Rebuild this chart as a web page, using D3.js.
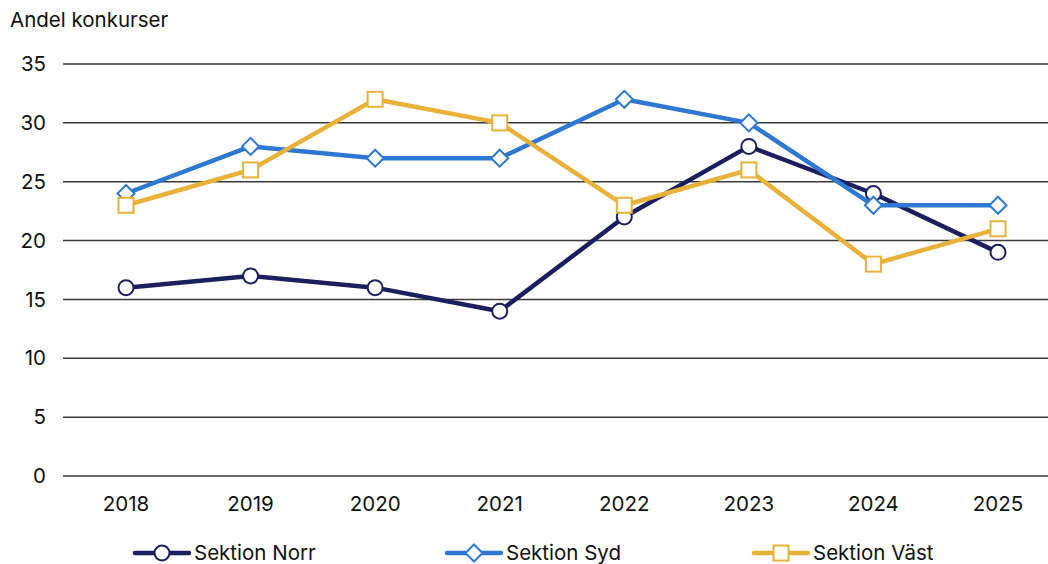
<!DOCTYPE html>
<html><head><meta charset="utf-8">
<script src="https://cdn.jsdelivr.net/npm/d3@7"></script>
<style>body{margin:0;background:#fff}svg{display:block;font-family:Inter,"Noto Sans",sans-serif}</style>
</head><body><svg id="c" width="1048" height="564"></svg>
<script>
const years = ["2018","2019","2020","2021","2022","2023","2024","2025"];
const norr = [16,17,16,14,22,28,24,19];
const syd  = [24,28,27,27,32,30,23,23];
const vast = [23,26,32,30,23,26,18,21];
const yTicks = [0,5,10,15,20,25,30,35];
const seriesNames = ["Sektion Norr","Sektion Syd","Sektion Väst"];
const colors = ["#1c1f5e","#2e78d2","#e8b23a"];
const shapes = ["circle","diamond","square"];
const FS = 20.5;

const svg = d3.select("#c");
const x = d3.scalePoint().domain(years).range([126,998]);
const y = d3.scaleLinear().domain([0,35]).range([476,64]);

// gridlines
svg.append("g").selectAll("line").data(yTicks).join("line")
  .attr("x1",63).attr("x2",1048).attr("y1",d=>y(d)).attr("y2",d=>y(d))
  .attr("stroke","#3a3a3a").attr("stroke-width",1.5);

// y labels
svg.append("g").selectAll("text").data(yTicks).join("text")
  .attr("x",46).attr("y",d=>y(d)).attr("dy","0.35em").attr("text-anchor","end")
  .attr("font-size",FS).attr("fill","#111").text(d=>d);

// x labels
svg.append("g").selectAll("text").data(years).join("text")
  .attr("x",d=>x(d)).attr("y",511).attr("text-anchor","middle")
  .attr("font-size",FS).attr("fill","#111").text(d=>d);

// title
svg.append("text").attr("x",10).attr("y",27).attr("font-size",FS).attr("fill","#111").text("Andel konkurser");

function marker(g, shape, cx, cy, color){
  if(shape==="circle"){
    g.append("circle").attr("cx",cx).attr("cy",cy).attr("r",7.5)
      .attr("fill","#fff").attr("stroke",color).attr("stroke-width",2);
  } else if(shape==="diamond"){
    const s=8.5;
    g.append("path").attr("d",`M${cx},${cy-s}L${cx+s},${cy}L${cx},${cy+s}L${cx-s},${cy}Z`)
      .attr("fill","#fff").attr("stroke",color).attr("stroke-width",2);
  } else {
    const s=15;
    g.append("rect").attr("x",cx-s/2).attr("y",cy-s/2).attr("width",s).attr("height",s)
      .attr("fill","#fff").attr("stroke",color).attr("stroke-width",2);
  }
}

const data = [norr,syd,vast];
const line = d3.line().x((d,i)=>x(years[i])).y(d=>y(d));
data.forEach((vals,si)=>{
  const g = svg.append("g");
  g.append("path").datum(vals).attr("d",line).attr("fill","none")
    .attr("stroke",colors[si]).attr("stroke-width",4.5).attr("stroke-linejoin","round");
  vals.forEach((v,i)=>marker(g,shapes[si],x(years[i]),y(v),colors[si]));
});

// legend
const legX = [135,447,754];
seriesNames.forEach((n,si)=>{
  const g = svg.append("g");
  const lx = legX[si], ly = 553;
  g.append("line").attr("x1",lx).attr("x2",lx+54).attr("y1",ly).attr("y2",ly)
    .attr("stroke",colors[si]).attr("stroke-width",4.5).attr("stroke-linecap","round");
  marker(g,shapes[si],lx+27,ly,colors[si]);
  g.append("text").attr("x",lx+59).attr("y",ly).attr("dy","0.35em")
    .attr("font-size",FS).attr("fill","#111").text(n);
});
</script></body></html>
